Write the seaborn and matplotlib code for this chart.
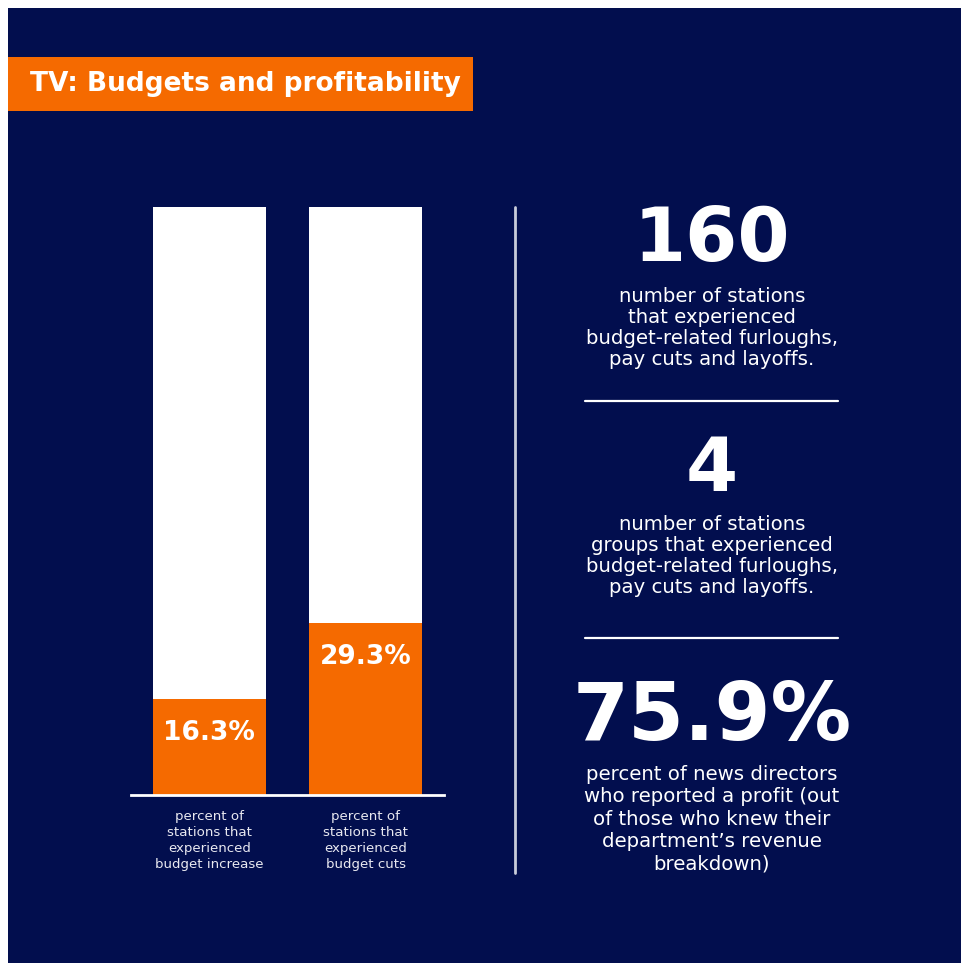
import matplotlib
matplotlib.use("Agg")
import matplotlib.pyplot as plt
from matplotlib.patches import Rectangle
import seaborn as sns
import pandas as pd

# ---- data ----
categories = ["percent of\nstations that\nexperienced\nbudget increase",
              "percent of\nstations that\nexperienced\nbudget cuts"]
values = [16.3, 29.3]
value_labels = ["16.3%", "29.3%"]
totals = [100, 100]
title = "TV: Budgets and profitability"
stat_values = ["160", "4", "75.9%"]
stat_descriptions = [
    "number of stations\nthat experienced\nbudget-related furloughs,\npay cuts and layoffs.",
    "number of stations\ngroups that experienced\nbudget-related furloughs,\npay cuts and layoffs.",
    "percent of news directors\nwho reported a profit (out\nof those who knew their\ndepartment\u2019s revenue\nbreakdown)",
]

NAVY = "#020E4E"
ORANGE = "#F56A00"
W, H = 961, 963

sns.set_theme(style="white")
plt.rcParams["font.family"] = ["DejaVu Sans"]

fig = plt.figure(figsize=(W / 100, H / 100), dpi=100)
fig.patch.set_facecolor("white")

def fx(x):
    return x / W

def fy(y):
    return 1 - y / H

# background
fig.patches.append(Rectangle((fx(8), 0), 1 - fx(8), fy(8), transform=fig.transFigure,
                             facecolor=NAVY, edgecolor="none", zorder=-5))
# title box
fig.patches.append(Rectangle((fx(8), fy(111)), fx(473) - fx(8), fy(57) - fy(111),
                             transform=fig.transFigure, facecolor=ORANGE,
                             edgecolor="none", zorder=-4))
fig.text(fx(30), fy(84), title, color="white", fontsize=19, fontweight="bold",
         ha="left", va="center", zorder=2)

# ---- bar chart ----
ax = fig.add_axes([fx(131), fy(795), fx(444) - fx(131), fy(207) - fy(795)])
ax.set_zorder(3)
ax.set_facecolor("none")
df = pd.DataFrame({"category": categories, "value": values, "total": totals})
sns.barplot(data=df, x="category", y="total", color="white", width=0.72,
            saturation=1, ax=ax, linewidth=0)
sns.barplot(data=df, x="category", y="value", color=ORANGE, width=0.72,
            saturation=1, ax=ax, linewidth=0)
ax.set_xlim(-0.5, 1.5)
ax.set_ylim(0, 100)
ax.set_xlabel("")
ax.set_ylabel("")
ax.set_yticks([])
for s in ["top", "left", "right"]:
    ax.spines[s].set_visible(False)
ax.spines["bottom"].set_color("white")
ax.spines["bottom"].set_linewidth(2)
ax.tick_params(axis="x", length=0, labelbottom=False)
for i, c in enumerate(categories):
    ax.annotate(c, xy=(i, 0), xytext=(0, -15), textcoords="offset pixels",
                ha="center", va="top", color="#E8E8F0", fontsize=9.6,
                linespacing=1.3, annotation_clip=False)
for i, (v, lbl) in enumerate(zip(values, value_labels)):
    ax.annotate(lbl, xy=(i, v), xytext=(0, -34), textcoords="offset pixels",
                ha="center", va="center", color="white", fontsize=19,
                fontweight="bold")

# divider
fig.add_artist(plt.Line2D([fx(515), fx(515)], [fy(207), fy(873)],
                          transform=fig.transFigure, color="#C8CCDA", lw=2))

# ---- right panel ----
cx = fx(712)
num_y = [240, 470, 718]
num_size = [54, 54, 58]
desc_top = [287, 515, 765]
desc_spacing = [1.13, 1.13, 1.22]
for val, desc, ny, ns, dt, ls in zip(stat_values, stat_descriptions, num_y,
                                     num_size, desc_top, desc_spacing):
    fig.text(cx, fy(ny), val, color="white", fontsize=ns, fontweight="bold",
             ha="center", va="center")
    fig.text(cx, fy(dt), desc, color="white", fontsize=14.2, ha="center",
             va="top", linespacing=ls)

for y in [401, 638]:
    fig.add_artist(plt.Line2D([fx(585), fx(838)], [fy(y), fy(y)],
                              transform=fig.transFigure, color="white", lw=1.6))

fig.savefig("out.png", dpi=100, facecolor=fig.get_facecolor())
